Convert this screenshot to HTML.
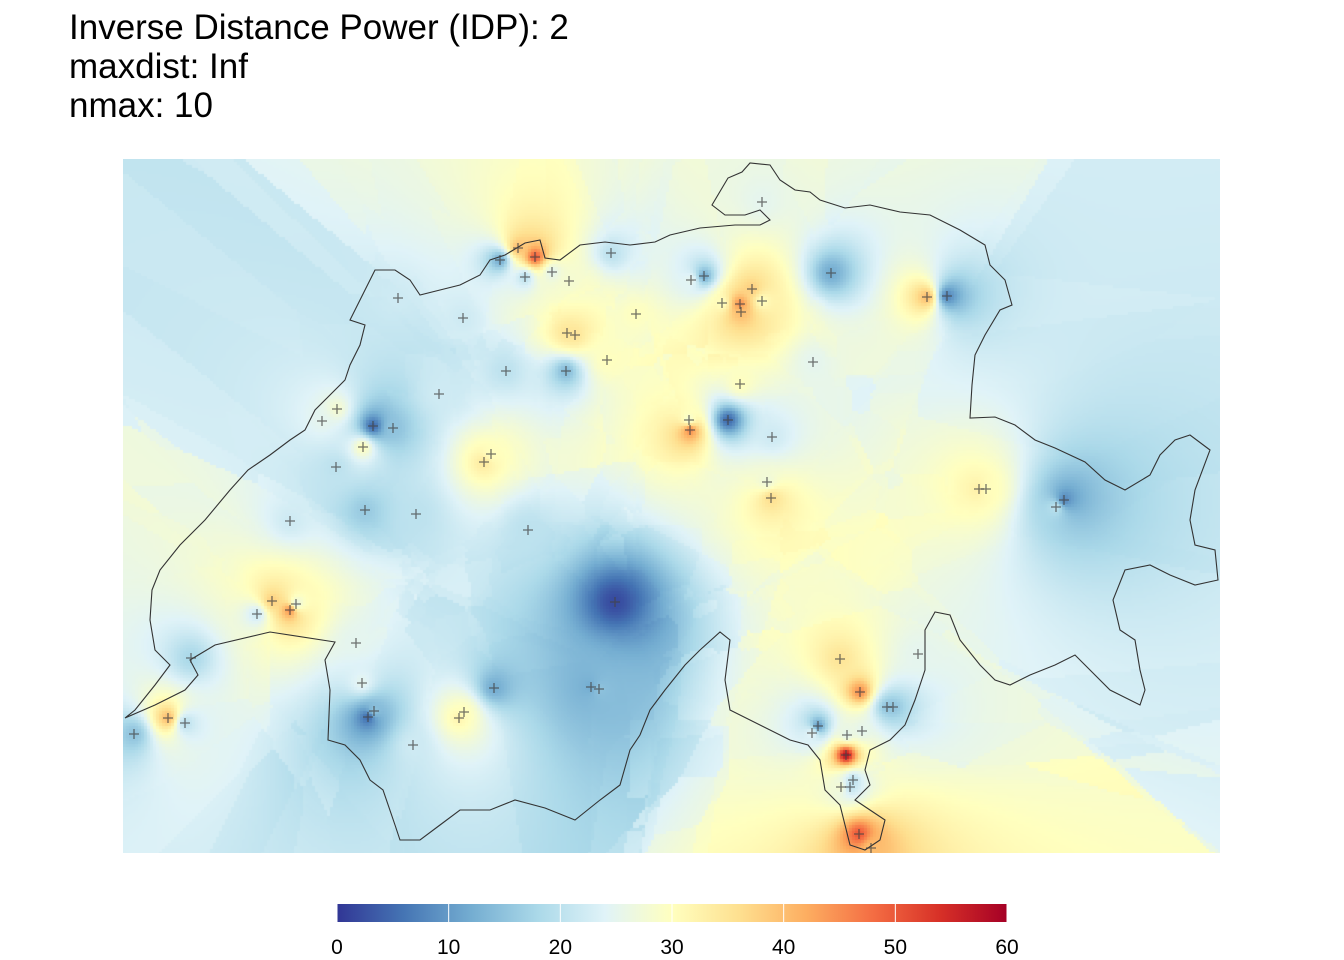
<!DOCTYPE html>
<html><head><meta charset="utf-8">
<style>
body{margin:0;background:#fff;width:1344px;height:960px;overflow:hidden;font-family:"Liberation Sans",sans-serif;}
#wrap{position:relative;width:1344px;height:960px;}
.title{position:absolute;left:69px;font-size:35px;line-height:38px;color:#000;}
canvas{position:absolute;left:123px;top:159px;}
svg{position:absolute;left:0;top:0;}
</style></head><body>
<div id="wrap">
<div class="title" style="top:9px">Inverse Distance Power (IDP): 2</div>
<div class="title" style="top:48px">maxdist: Inf</div>
<div class="title" style="top:87px">nmax: 10</div>
<canvas id="cv" width="1097" height="694"></canvas>
<svg id="sv" width="1344" height="960"></svg>
</div>
<script>
// station data (map units: x east from left edge, y north from bottom edge)
const stationX=[639,377,395,412,402,429,446,488,275,340,444,452,513,484,383,443,568,581,599,617,618,629,639,708,804,824,690,617,316,214,199,250,270,240,566,567,605,649,368,361,213,644,648,856,863,941,933,167,242,293,405,492,149,167,173,134,233,68,239,371,468,476,717,737,795,764,770,251,245,341,336,290,45,62,11,695,689,724,739,723,730,727,718,736,748];
const stationY=[651,593,605,596,576,581,572,600,555,535,520,518,539,493,482,482,573,577,550,549,541,564,552,580,556,557,491,469,459,444,432,427,425,406,433,423,433,416,399,391,386,371,355,364,364,353,346,332,343,339,323,251,252,243,249,239,210,195,170,165,166,164,194,161,199,146,146,142,136,141,135,108,135,130,119,127,120,118,122,98,73,66,66,19,5];
const stationV=[25,12,40,50,20,25,28,20,22,22,35,35,30,30,20,14,25,12,30,45,40,38,30,12,40,8,25,30,22,28,25,5,15,30,28,45,5,22,30,34,20,27,36,33,30,8,20,22,16,20,20,2,38,45,25,22,25,18,25,12,12,15,35,45,25,15,15,15,5,30,32,22,40,20,15,10,25,25,25,58,20,20,28,50,40];
const colorTicks=[0,10,20,30,40,50,60];
const vmin=0,vmax=60;
const X0=123,Y0=853;
function xScale(v){return X0+v;}
function yScale(v){return Y0-v;}
const stops=["#313695","#4575b4","#74add1","#abd9e9","#e0f3f8","#ffffbf","#fee090","#fdae61","#f46d43","#d73027","#a50026"].map(h=>[parseInt(h.slice(1,3),16),parseInt(h.slice(3,5),16),parseInt(h.slice(5,7),16)]);
function col(v){let t=Math.max(0,Math.min(1,(v-vmin)/(vmax-vmin)))*(stops.length-1);let i=Math.min(stops.length-2,Math.floor(t)),f=t-i;return stops[i].map((c,k)=>Math.round(c+(stops[i+1][k]-c)*f));}
const cv=document.getElementById('cv'),ctx=cv.getContext('2d');
const W=1097,H=694,cell=3;
const img=ctx.createImageData(W,H);
const n=Math.min(stationX.length,stationY.length,stationV.length);
for(let gy=0;gy<H;gy+=cell){for(let gx=0;gx<W;gx+=cell){
 const px=gx+cell/2+X0,py=gy+cell/2+159;
 const arr=[];
 for(let i=0;i<n;i++){const dx=xScale(stationX[i])-px,dy=yScale(stationY[i])-py;arr.push([dx*dx+dy*dy,stationV[i]]);}
 arr.sort((a,b)=>a[0]-b[0]);
 let sw=0,sv=0;
 for(let k=0;k<10;k++){const w=1/Math.max(arr[k][0],1);sw+=w;sv+=w*arr[k][1];}
 const c=col(sv/sw);
 for(let yy=gy;yy<Math.min(H,gy+cell);yy++)for(let xx=gx;xx<Math.min(W,gx+cell);xx++){const o=(yy*W+xx)*4;img.data[o]=c[0];img.data[o+1]=c[1];img.data[o+2]=c[2];img.data[o+3]=255;}
}}
ctx.putImageData(img,0,0);
const NS='http://www.w3.org/2000/svg';
const sv=document.getElementById('sv');
function mk(t,a){const e=document.createElementNS(NS,t);for(const k in a)e.setAttribute(k,a[k]);sv.appendChild(e);return e;}
const border=[[125,718],[155,705],[185,690],[198,675],[190,660],[215,645],[270,632],[335,642],[325,660],[330,690],[328,740],[345,745],[360,760],[370,780],[383,790],[395,825],[400,840],[420,840],[440,825],[460,810],[490,810],[515,800],[545,808],[575,820],[600,800],[620,785],[630,750],[640,735],[650,710],[665,690],[685,665],[700,650],[720,632],[730,640],[725,680],[730,710],[760,725],[790,740],[808,745],[820,760],[825,790],[840,805],[845,825],[850,845],[865,850],[880,840],[885,820],[870,810],[855,800],[870,785],[865,770],[870,750],[890,740],[905,725],[915,700],[925,670],[925,630],[935,612],[950,615],[960,640],[980,665],[995,680],[1010,685],[1030,675],[1055,665],[1075,655],[1090,670],[1110,690],[1140,705],[1145,690],[1140,670],[1135,640],[1120,630],[1113,600],[1125,570],[1150,565],[1170,575],[1195,585],[1218,580],[1215,550],[1195,545],[1190,520],[1195,490],[1210,450],[1190,435],[1175,440],[1160,455],[1150,475],[1125,490],[1105,480],[1085,462],[1055,448],[1035,440],[1015,425],[995,417],[970,418],[972,385],[975,355],[985,335],[1000,310],[1012,305],[1005,280],[990,265],[985,245],[960,230],[930,215],[900,212],[870,205],[845,208],[820,200],[810,192],[795,190],[780,180],[770,165],[750,163],[742,172],[728,178],[712,205],[725,215],[745,215],[760,210],[770,220],[760,225],[735,225],[700,228],[670,235],[655,242],[630,245],[605,242],[580,245],[560,260],[545,258],[540,240],[525,243],[505,255],[490,260],[480,275],[460,285],[440,290],[420,295],[410,280],[395,270],[375,270],[360,300],[350,320],[365,325],[360,345],[350,365],[345,380],[330,395],[315,410],[305,430],[290,440],[270,455],[248,470],[230,490],[205,520],[180,545],[160,570],[152,590],[150,620],[155,650],[170,665],[155,685],[135,710],[125,718]];
const bp=mk('polyline',{points:border.map(p=>p.join(',')).join(' '),fill:'none',stroke:'#333',"stroke-width":1.1});


for(let i=0;i<n;i++){const x=xScale(stationX[i]),y=yScale(stationY[i]);
 const p=mk('path',{d:`M${x-5},${y}H${x+5}M${x},${y-5}V${y+5}`,stroke:'#444',"stroke-opacity":0.75,"stroke-width":1.3});
 
 
}
const cbX0=337,cbX1=1007,cbY=904,cbH=18;
function cbScale(v){return cbX0+(v-vmin)/(vmax-vmin)*(cbX1-cbX0);}
const defs=mk('defs',{});
const lg=document.createElementNS(NS,'linearGradient');lg.setAttribute('id','cbg');defs.appendChild(lg);
stops.forEach((c,i)=>{const s=document.createElementNS(NS,'stop');s.setAttribute('offset',(i/(stops.length-1)*100)+'%');s.setAttribute('stop-color',`rgb(${c})`);lg.appendChild(s);});
const cb=mk('rect',{x:cbX0,y:cbY,width:cbX1-cbX0,height:cbH,fill:'url(#cbg)'});


colorTicks.forEach(t=>{const x=cbScale(t);
 const l=mk('line',{x1:x,x2:x,y1:cbY,y2:cbY+cbH,stroke:'#fff',"stroke-width":1});
 
 
 const tx=mk('text',{x:x,y:954,"text-anchor":"middle","font-size":21,fill:'#000',"font-family":"Liberation Sans, sans-serif"});
 tx.textContent=t;
 
 
});
</script>
</body></html>
